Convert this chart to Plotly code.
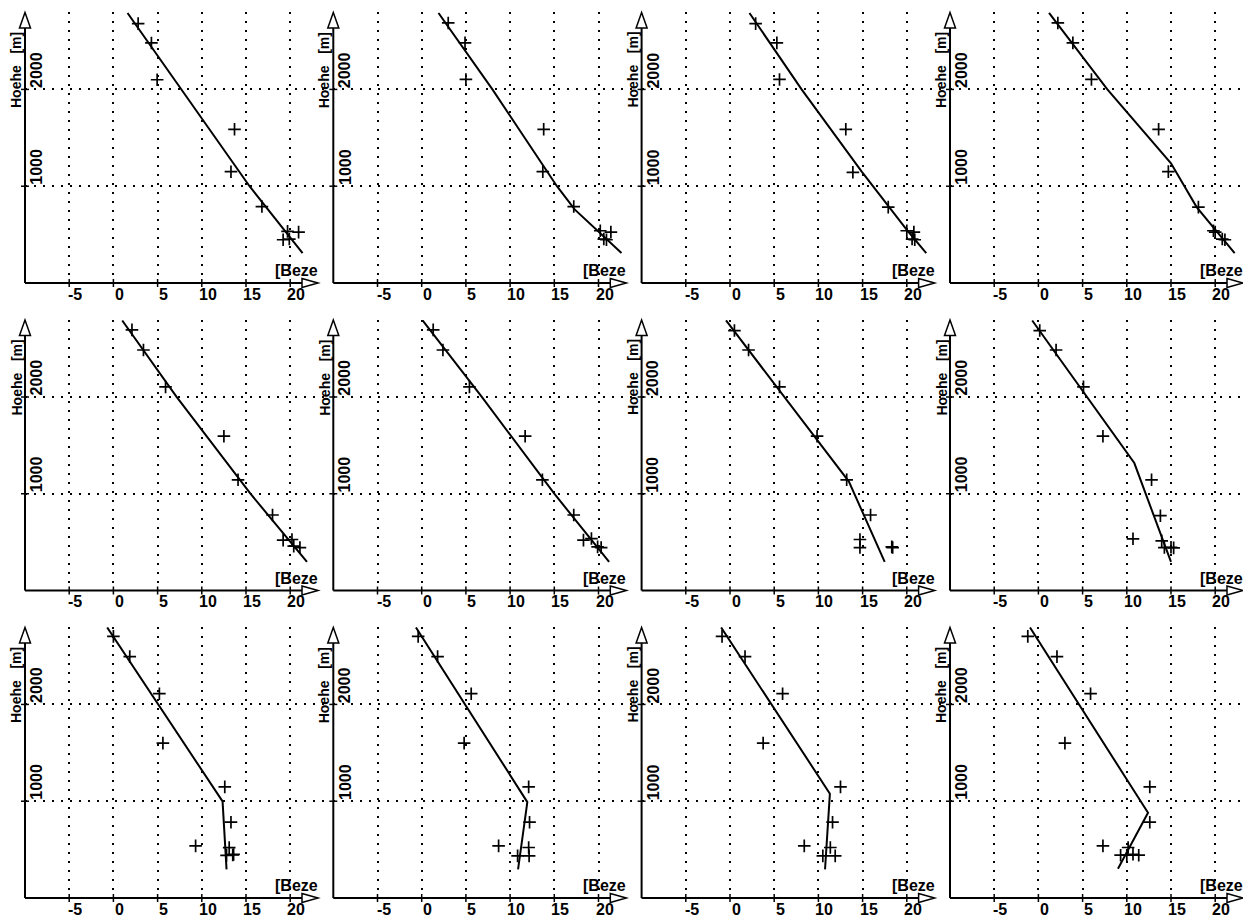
import plotly.graph_objects as go

# ---------------- data ----------------
X_TICKS = [-5, 0, 5, 10, 15, 20]
X_TICK_LABELS = ["-5", "0", "5", "10", "15", "20"]
Y_TICKS = [1000, 2000]
Y_TICK_LABELS = ["1000", "2000"]
Y_TITLE = "Hoehe   [m]"
X_TITLE = "[Beze"

p01_obs_x = [2.8, 4.3, 4.95, 13.7, 13.3, 16.8, 19.7, 20.95, 19.2, 19.9]
p01_obs_h = [2680, 2480, 2100, 1588, 1150, 790, 533, 526, 447, 454]
p01_fit_x = [1.6, 7.7, 15.4, 21.4]
p01_fit_h = [2790, 2000, 1000, 309]

p02_obs_x = [3.0, 4.9, 5.0, 13.8, 13.7, 17.2, 20.2, 21.4, 20.6, 20.9]
p02_obs_h = [2687, 2481, 2103, 1588, 1151, 790, 540, 526, 454, 447]
p02_fit_x = [1.9, 8.0, 15.3, 17.3, 22.6]
p02_fit_h = [2790, 2000, 1000, 760, 309]

p03_obs_x = [2.9, 5.3, 5.6, 13.1, 13.9, 17.9, 20.0, 20.8, 20.6, 20.9]
p03_obs_h = [2680, 2481, 2103, 1588, 1144, 784, 540, 526, 454, 447]
p03_fit_x = [2.2, 8.1, 14.9, 20.0, 22.2]
p03_fit_h = [2790, 2000, 1151, 550, 309]

p04_obs_x = [2.2, 3.9, 6.0, 13.6, 14.7, 18.1, 19.8, 20.0, 20.8, 21.1]
p04_obs_h = [2687, 2481, 2103, 1588, 1151, 784, 540, 526, 454, 447]
p04_fit_x = [1.2, 7.8, 15.0, 17.9, 22.2]
p04_fit_h = [2790, 2000, 1237, 784, 309]

p05_obs_x = [2.1, 3.4, 5.9, 12.5, 14.1, 18.0, 19.2, 20.2, 20.4, 21.1]
p05_obs_h = [2693, 2485, 2104, 1594, 1144, 780, 520, 527, 458, 444]
p05_fit_x = [1.0, 7.15, 15.5, 21.9]
p05_fit_h = [2790, 2000, 1000, 295]

p06_obs_x = [1.3, 2.4, 5.4, 11.7, 13.65, 17.2, 18.3, 19.2, 19.9, 20.3]
p06_obs_h = [2693, 2485, 2104, 1594, 1144, 780, 520, 537, 451, 444]
p06_fit_x = [0.1, 6.8, 15.0, 21.2]
p06_fit_h = [2790, 2000, 1000, 295]

p07_obs_x = [0.5, 2.1, 5.6, 9.85, 13.2, 15.9, 14.7, 14.7, 18.3, 18.4]
p07_obs_h = [2686, 2485, 2104, 1594, 1144, 780, 527, 444, 451, 444]
p07_fit_x = [-0.45, 13.45, 17.5]
p07_fit_h = [2790, 1126, 295]

p08_obs_x = [0.15, 2.0, 5.1, 7.3, 12.8, 13.8, 10.7, 13.95, 14.25, 15.0, 15.3]
p08_obs_h = [2686, 2485, 2104, 1594, 1144, 773, 534, 513, 444, 447, 440]
p08_fit_x = [-0.7, 10.85, 15.0]
p08_fit_h = [2790, 1317, 295]

p09_obs_x = [0.0, 1.85, 5.2, 5.6, 12.6, 13.3, 9.3, 13.1, 12.8, 13.5, 13.6]
p09_obs_h = [2703, 2494, 2111, 1600, 1148, 783, 539, 520, 440, 445, 450]
p09_fit_x = [-0.7, 12.35, 12.8]
p09_fit_h = [2795, 998, 296]

p10_obs_x = [-0.4, 1.8, 5.6, 4.8, 12.1, 12.2, 8.7, 12.1, 10.85, 12.15]
p10_obs_h = [2703, 2494, 2111, 1600, 1148, 783, 539, 522, 435, 435]
p10_fit_x = [-0.65, 11.95, 10.9]
p10_fit_h = [2795, 991, 296]

p11_obs_x = [-0.9, 1.7, 5.95, 3.75, 12.5, 11.6, 8.4, 11.35, 10.5, 11.9]
p11_obs_h = [2703, 2494, 2111, 1600, 1148, 783, 539, 522, 435, 435]
p11_fit_x = [-1.0, 11.3, 10.75]
p11_fit_h = [2795, 1078, 296]

p12_obs_x = [-1.2, 2.1, 5.9, 3.0, 12.6, 12.6, 7.3, 10.15, 9.3, 10.0, 10.7, 11.35]
p12_obs_h = [2703, 2494, 2111, 1600, 1148, 783, 539, 522, 442, 442, 452, 442]
p12_fit_x = [-0.95, 12.4, 9.0]
p12_fit_h = [2795, 880, 303]

panels = [
    (p01_obs_x, p01_obs_h, p01_fit_x, p01_fit_h),
    (p02_obs_x, p02_obs_h, p02_fit_x, p02_fit_h),
    (p03_obs_x, p03_obs_h, p03_fit_x, p03_fit_h),
    (p04_obs_x, p04_obs_h, p04_fit_x, p04_fit_h),
    (p05_obs_x, p05_obs_h, p05_fit_x, p05_fit_h),
    (p06_obs_x, p06_obs_h, p06_fit_x, p06_fit_h),
    (p07_obs_x, p07_obs_h, p07_fit_x, p07_fit_h),
    (p08_obs_x, p08_obs_h, p08_fit_x, p08_fit_h),
    (p09_obs_x, p09_obs_h, p09_fit_x, p09_fit_h),
    (p10_obs_x, p10_obs_h, p10_fit_x, p10_fit_h),
    (p11_obs_x, p11_obs_h, p11_fit_x, p11_fit_h),
    (p12_obs_x, p12_obs_h, p12_fit_x, p12_fit_h),
]

# ---------------- layout geometry (pixels) ----------------
# The page body has the browser's default 8px margin, so the figure is
# sized and laid out to fill the 1251x919 window from that offset.
WIN_W, WIN_H = 1251, 919
PAGE_MARGIN = 8
FIG_W, FIG_H = WIN_W - PAGE_MARGIN, WIN_H - PAGE_MARGIN
AXIS_PX_X = [p - PAGE_MARGIN for p in (25, 333.3, 641.6, 950)]   # y-axis of each column
AXIS_PX_Y = [p - PAGE_MARGIN for p in (283, 590.5, 898)]         # x-axis of each row
PANEL_W = 303
PANEL_H = 271
X_MIN = -10
X_PX_PER_UNIT = 8.84
Y_MAX = 2800

FONT = "Liberation Sans"
BLACK = "black"


def tfont(size):
    return dict(family=FONT, size=size, color=BLACK, weight="bold")


fig = go.Figure()
layout = dict(
    width=FIG_W, height=FIG_H, autosize=False,
    margin=dict(l=0, r=0, t=0, b=0),
    paper_bgcolor="white", plot_bgcolor="white",
    showlegend=False,
    font=dict(family=FONT, color=BLACK),
)
shapes = []
annotations = []

for i, (ox, oh, fx, fh) in enumerate(panels):
    r, c = divmod(i, 4)
    n = i + 1
    xa = "x" if n == 1 else f"x{n}"
    ya = "y" if n == 1 else f"y{n}"
    px0 = AXIS_PX_X[c]
    W = min(PANEL_W, FIG_W - px0)
    pyb = AXIS_PX_Y[r]
    pyt = pyb - PANEL_H

    fig.add_trace(go.Scatter(x=fx, y=fh, mode="lines",
                             line=dict(color=BLACK, width=2),
                             xaxis=xa, yaxis=ya, hoverinfo="skip"))
    fig.add_trace(go.Scatter(x=ox, y=oh, mode="markers",
                             marker=dict(symbol="cross-thin", size=9,
                                         line=dict(color=BLACK, width=1.7)),
                             xaxis=xa, yaxis=ya, hoverinfo="skip"))

    xkey = "xaxis" if n == 1 else f"xaxis{n}"
    ykey = "yaxis" if n == 1 else f"yaxis{n}"
    layout[xkey] = dict(
        domain=[px0 / FIG_W, (px0 + W) / FIG_W],
        range=[X_MIN, X_MIN + W / X_PX_PER_UNIT],
        anchor=ya, tickmode="array", tickvals=X_TICKS,
        showgrid=True, gridcolor=BLACK, gridwidth=2, griddash="2px,7px",
        zeroline=False, showline=False, ticks="", showticklabels=False,
        fixedrange=True,
    )
    layout[ykey] = dict(
        domain=[1 - pyb / FIG_H, 1 - pyt / FIG_H],
        range=[0, Y_MAX],
        anchor=xa, tickmode="array", tickvals=Y_TICKS,
        showgrid=True, gridcolor=BLACK, gridwidth=2, griddash="2px,7px",
        zeroline=False, showline=False, ticks="", showticklabels=False,
        fixedrange=True,
    )

    xd = f"{xa} domain"
    yd = f"{ya} domain"
    fx_ = lambda p: p / W        # pixel offset -> x-domain fraction
    fy_ = lambda p: p / PANEL_H  # pixel offset -> y-domain fraction

    # axis lines
    shapes.append(dict(type="line", xref=xd, yref=yd, x0=0, x1=fx_(280), y0=0, y1=0,
                       line=dict(color=BLACK, width=2)))
    shapes.append(dict(type="line", xref=xd, yref=yd, x0=0, x1=0, y0=0, y1=fy_(256),
                       line=dict(color=BLACK, width=2)))
    # arrow heads (open triangles)
    ya_tip, ya_base, ya_hw = fy_(270.5), fy_(255), fx_(5.5)
    shapes.append(dict(type="path", xref=xd, yref=yd,
                       path=f"M 0,{ya_tip} L {-ya_hw},{ya_base} L {ya_hw},{ya_base} Z",
                       fillcolor="white", line=dict(color=BLACK, width=1.5)))
    xa_tip, xa_base, xa_hh = fx_(293), fx_(277), fy_(4.5)
    shapes.append(dict(type="path", xref=xd, yref=yd,
                       path=f"M {xa_tip},0 L {xa_base},{xa_hh} L {xa_base},{-xa_hh} Z",
                       fillcolor="white", line=dict(color=BLACK, width=1.5)))
    # crossing tick marks
    for v in X_TICKS:
        shapes.append(dict(type="line", xref=xa, yref=yd, x0=v, x1=v,
                           y0=fy_(-4), y1=fy_(4), line=dict(color=BLACK, width=1.5)))
    for v in Y_TICKS:
        shapes.append(dict(type="line", xref=xd, yref=ya, x0=fx_(-4), x1=fx_(4),
                           y0=v, y1=v, line=dict(color=BLACK, width=1.5)))

    # x tick labels
    for v, t in zip(X_TICKS, X_TICK_LABELS):
        annotations.append(dict(text=t, xref=xa, yref=yd, x=v, y=0,
                                xanchor="center", yanchor="middle",
                                xshift=6, yshift=-10.5, height=14, borderpad=0,
                                showarrow=False, font=tfont(16)))
    # y tick labels (rotated, inside)
    for v, t in zip(Y_TICKS, Y_TICK_LABELS):
        annotations.append(dict(text=t, xref=xd, yref=ya, x=0, y=v,
                                xanchor="left", yanchor="bottom", xshift=2, yshift=0,
                                textangle=-90, showarrow=False, borderpad=0,
                                font=tfont(16)))
    # axis titles
    annotations.append(dict(text=Y_TITLE, xref=xd, yref=yd, x=0, y=fy_(213),
                            xanchor="right", yanchor="middle", xshift=0,
                            textangle=-90, showarrow=False, borderpad=0,
                            font=tfont(14)))
    annotations.append(dict(text=X_TITLE, xref=xd, yref=yd, x=fx_(294), y=fy_(2.6),
                            xanchor="right", yanchor="bottom", showarrow=False,
                            borderpad=0, font=tfont(16)))

layout["shapes"] = shapes
layout["annotations"] = annotations
fig.update_layout(**layout)
fig.write_html("out.html")
